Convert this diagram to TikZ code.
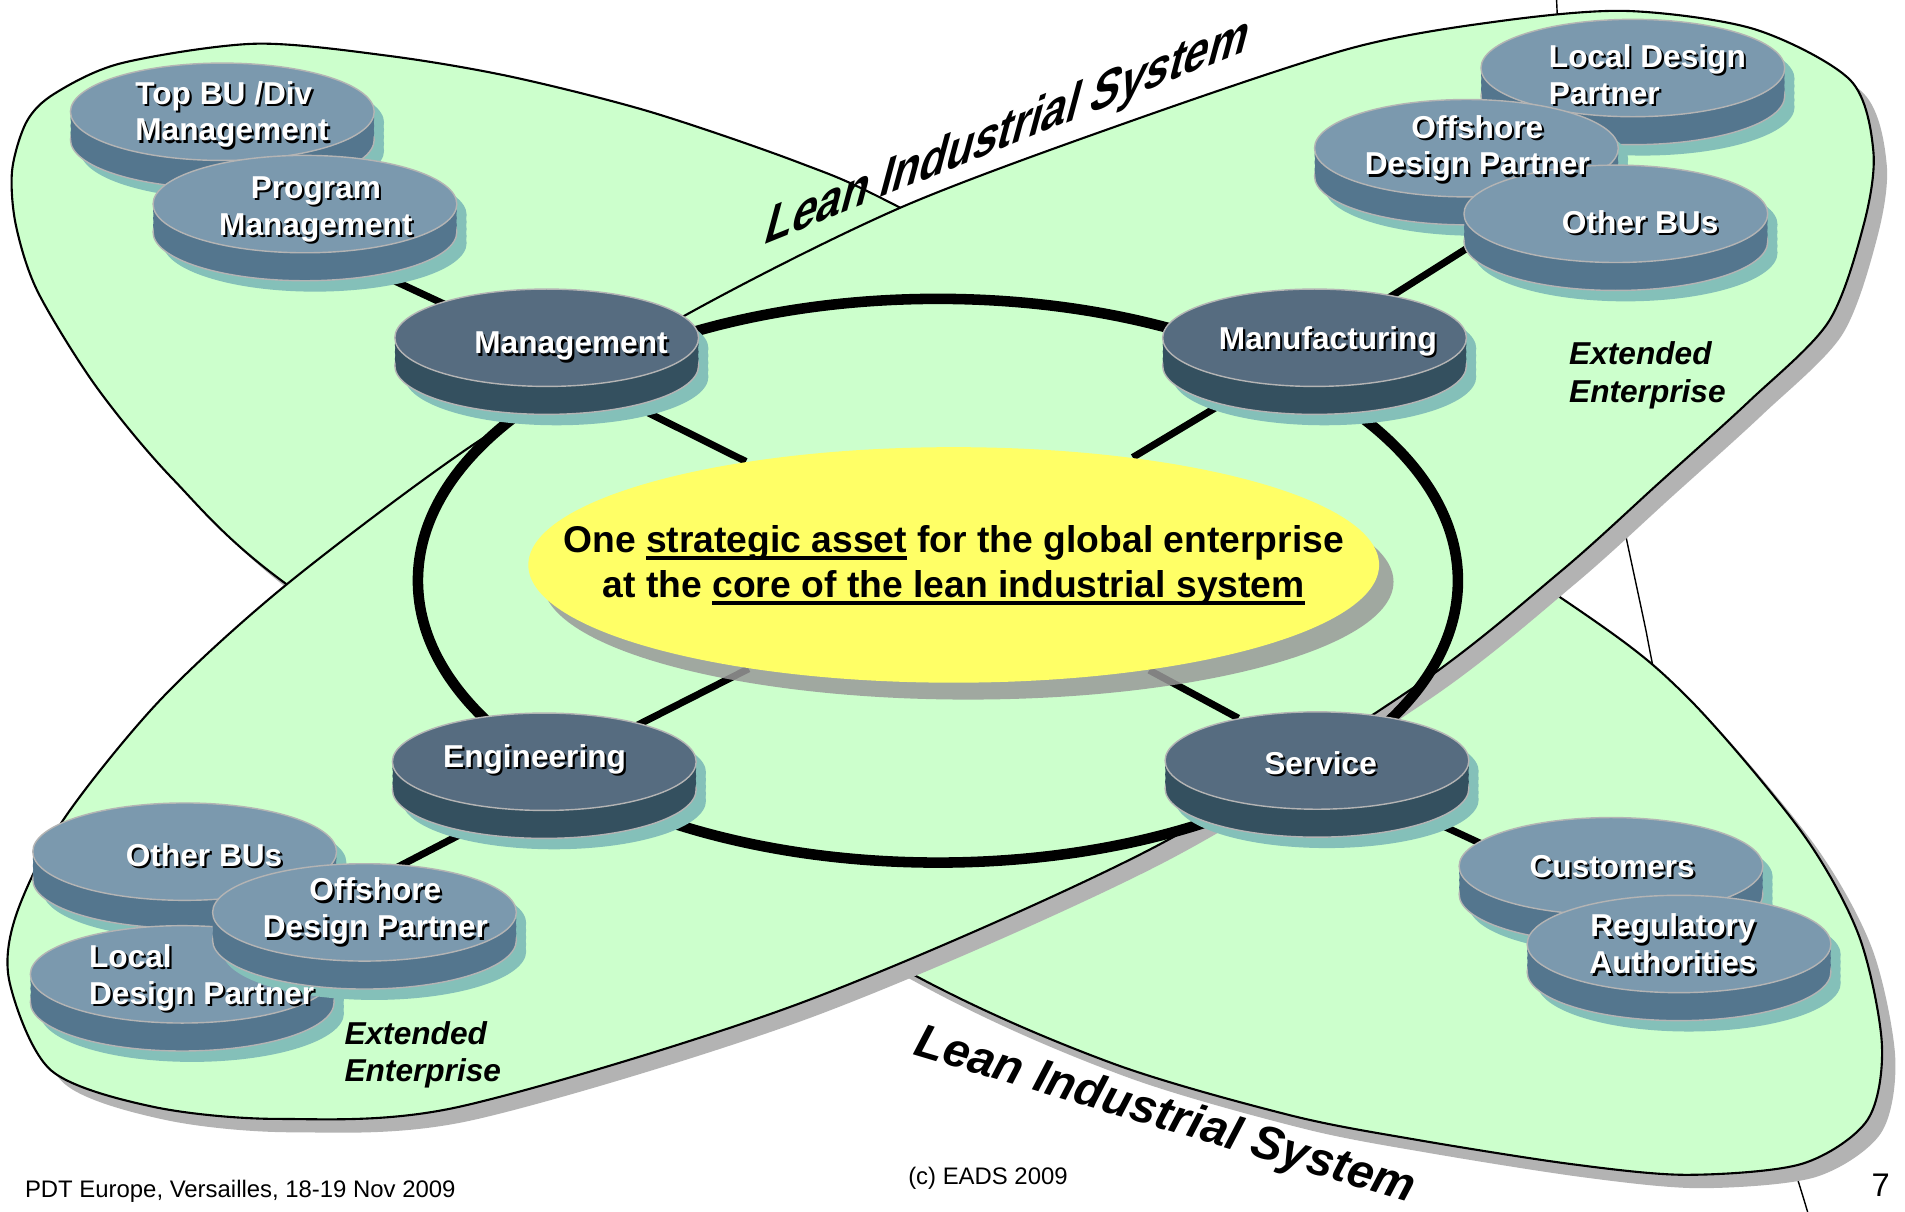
\documentclass[tikz,border=0pt]{standalone}
\usepackage{fontspec}
\setmainfont{Liberation Sans}
\usetikzlibrary{shapes.geometric, shadows}
\pgfdeclarelayer{bg}
\pgfdeclarelayer{links}
\pgfsetlayers{bg,links,main}

\definecolor{leafgreen}{HTML}{CCFFCC}
\definecolor{leafshade}{HTML}{B3B3B3}
\definecolor{coreyellow}{HTML}{FFFF66}
\definecolor{lighttop}{HTML}{7B99AE}
\definecolor{lightside}{HTML}{54768E}
\definecolor{darktop}{HTML}{566C80}
\definecolor{darkside}{HTML}{34505F}
\definecolor{diskshade}{HTML}{84C0B9}
\definecolor{rim}{HTML}{B4B4B4}

\newcommand{\disklbl}{\fontsize{9}{10.5}\selectfont\bfseries}
\newcommand{\corelbl}{\fontsize{10.6}{12.8}\selectfont\bfseries}
\newcommand{\wtxt}[1]{\makebox[0pt][l]{\hspace{0.6pt}\raisebox{-0.6pt}{\color{black}#1}}#1}
\newcommand{\coreul}[1]{\setbox0\hbox{#1}\rlap{\rule[-2.2pt]{\wd0}{1pt}}\box0\relax}

\begin{document}
\begin{tikzpicture}[x=0.01215cm, y=-0.01215cm,
  leaf/.style={draw, line width=0.6pt, fill=leafgreen,
    general shadow={fill=leafshade, shadow xshift=3.8pt, shadow yshift=-3.8pt}},
  disk/.style 2 args={ellipse, minimum width=86.4pt, minimum height=27.7pt,
    inner sep=0pt, fill=#1, draw=rim, line width=0.4pt,
    general shadow={fill=diskshade, shadow xshift=2.8pt, shadow yshift=-3.1pt},
    general shadow={fill=diskshade, shadow xshift=2.8pt, shadow yshift=-5.1pt},
    general shadow={fill=diskshade, shadow xshift=2.8pt, shadow yshift=-7.1pt},
    general shadow={fill=diskshade, shadow xshift=2.8pt, shadow yshift=-9.1pt},
    general shadow={fill=diskshade, shadow xshift=2.8pt, shadow yshift=-11.05pt},
    general shadow={fill=#2, draw=rim, line width=0.4pt, shadow yshift=-7.95pt},
    general shadow={fill=#2, shadow yshift=-6pt},
    general shadow={fill=#2, shadow yshift=-4pt},
    general shadow={fill=#2, shadow yshift=-2pt}},
  lightdisk/.style={disk={lighttop}{lightside}},
  darkdisk/.style={disk={darktop}{darkside}},
  disklabel/.style={text=white, font=\disklbl, align=center, inner sep=0pt},
  core/.style={ellipse, fill=coreyellow, minimum width=242pt, minimum height=67pt,
    inner xsep=-30pt, inner ysep=-10pt, align=center, font=\corelbl,
    general shadow={fill=black!40, opacity=0.85, shadow xshift=4.1pt, shadow yshift=-4.8pt}},
  ring/.style={line width=3pt},
  link/.style={line width=2pt},
  lis/.style={font=\fontsize{13.5}{16}\selectfont\bfseries, anchor=base, inner sep=0pt},
  ext/.style={font=\fontsize{9}{10.6}\selectfont\bfseries\itshape, align=left, anchor=west, inner sep=0pt},
  foot/.style={font=\fontsize{6.8}{8}\selectfont, anchor=base west, inner sep=0pt}]

  \useasboundingbox (0,0) rectangle (1568,997.6);

  \begin{pgfonlayer}{bg}
    \fill[white] (0,0) rectangle (1568,997.6);
    \draw[line width=0.4pt] (1281,-5) .. controls (1292,250) and (1330,400) .. (1355,520)
      .. controls (1400,760) and (1460,900) .. (1490,1005);
    \draw[leaf] plot[smooth cycle] coordinates {(13,185) (10,140) (22,100) (45,77) (100,52)
      (210,36) (320,46) (420,63) (535,92) (658,134) (741,171) (1010,315) (1295,499)
      (1388,573) (1483,685) (1530,770) (1549,860) (1537,922) (1483,958) (1388,967)
      (1292,958) (1165,938) (1062,918) (915,875) (757,805) (500,655) (236,481)
      (142,394) (79,318) (31,240)};
    \draw[leaf] plot[smooth cycle] coordinates {(8,809) (13,754) (52,675) (132,576)
      (236,481) (391,365) (565,259) (741,171) (930,100) (1111,40) (1230,18) (1338,9)
      (1444,24) (1523,66) (1542,125) (1534,185) (1505,265) (1440,330) (1365,398)
      (1285,470) (1165,565) (945,700) (658,826) (378,911) (230,921) (126,911) (42,881)};
  \end{pgfonlayer}

  \node[lis, rotate=21.9, xslant=0.75] (listop) at (826,122) {Lean Industrial System};
  \node[lis, rotate=-16.6, font=\fontsize{13.5}{16}\selectfont\bfseries\itshape] (lisbot) at (956,929) {Lean Industrial System};

  \node[core] (core) at (785,465) {One \coreul{strategic asset} for the global enterprise\\at the \coreul{core of the lean industrial system}};

  \node[lightdisk] (topbu) at (183,92) {};
  \node[lightdisk] (pgm) at (251,168) {};
  \node[lightdisk] (ldptr) at (1344,56) {};
  \node[lightdisk] (odptr) at (1207,122) {};
  \node[lightdisk] (obutr) at (1330,176) {};
  \node[lightdisk] (obubl) at (152,701) {};
  \node[lightdisk] (ldpbl) at (150,802) {};
  \node[lightdisk] (odpbl) at (300,751) {};
  \node[lightdisk] (cust) at (1326,713) {};
  \node[lightdisk] (reg) at (1382,777) {};

  \node[darkdisk] (mgmt) at (450,278) {};
  \node[darkdisk] (mfg) at (1082,278) {};
  \node[darkdisk] (eng) at (448,627) {};
  \node[darkdisk] (svc) at (1084,626) {};

  \node[disklabel, align=left] (topbulbl) at (191,95) {\wtxt{Top BU /Div}\\\wtxt{Management}};
  \node[disklabel] (pgmlbl) at (260,173) {\wtxt{Program}\\\wtxt{Management}};
  \node[disklabel, align=left] (ldptrlbl) at (1356,62) {\wtxt{Local Design}\\\wtxt{Partner}};
  \node[disklabel] (odptrlbl) at (1216,123) {\wtxt{Offshore}\\\wtxt{Design Partner}};
  \node[disklabel] (obutrlbl) at (1350,184) {\wtxt{Other BUs}};
  \node[disklabel] (obubllbl) at (168,705) {\wtxt{Other BUs}};
  \node[disklabel, align=left] (ldpbllbl) at (166,806) {\wtxt{Local}\\\wtxt{Design Partner}};
  \node[disklabel] (odpbllbl) at (309,751) {\wtxt{Offshore}\\\wtxt{Design Partner}};
  \node[disklabel] (custlbl) at (1327,714) {\wtxt{Customers}};
  \node[disklabel] (reglbl) at (1377,778) {\wtxt{Regulatory}\\\wtxt{Authorities}};
  \node[disklabel] (mgmtlbl) at (470,286) {\wtxt{Management}};
  \node[disklabel] (mfglbl) at (1093,282) {\wtxt{Manufacturing}};
  \node[disklabel] (englbl) at (440,626) {\wtxt{Engineering}};
  \node[disklabel] (svclbl) at (1087,629) {\wtxt{Service}};

  \begin{pgfonlayer}{links}
    \draw[ring] (772,478) ellipse [x radius=428, y radius=232];
    \draw[link] ([yshift=-7pt]mgmt.center) -- (core);
    \draw[link] ([yshift=-3pt]mfg.center) -- (core);
    \draw[link] ([yshift=-3pt]eng.center) -- (core);
    \draw[link] (svc) -- (core);
    \draw[link] ([yshift=-10pt]pgm.center) -- ([yshift=-4pt]mgmt.center);
    \draw[link] ([yshift=-2pt]mfg.center) -- ([yshift=17pt]obutr.center);
    \draw[link] ([yshift=-8.3pt]eng.center) -- ([yshift=8pt]odpbl.center);
    \draw[link] ([yshift=-2pt]svc.center) -- ([yshift=-10.7pt]cust.center);
  \end{pgfonlayer}

  \node[ext] (exttr) at (1291,309) {Extended\\Enterprise};
  \node[ext] (extbl) at (283,868) {Extended\\Enterprise};

  \node[foot] (venue) at (20,986) {PDT Europe, Versailles, 18-19 Nov 2009};
  \node[foot] (copyr) at (747,975) {(c) EADS 2009};
  \node[foot, anchor=base east, font=\fontsize{9.3}{11}\selectfont] (page) at (1556,985) {7};
\end{tikzpicture}
\end{document}
